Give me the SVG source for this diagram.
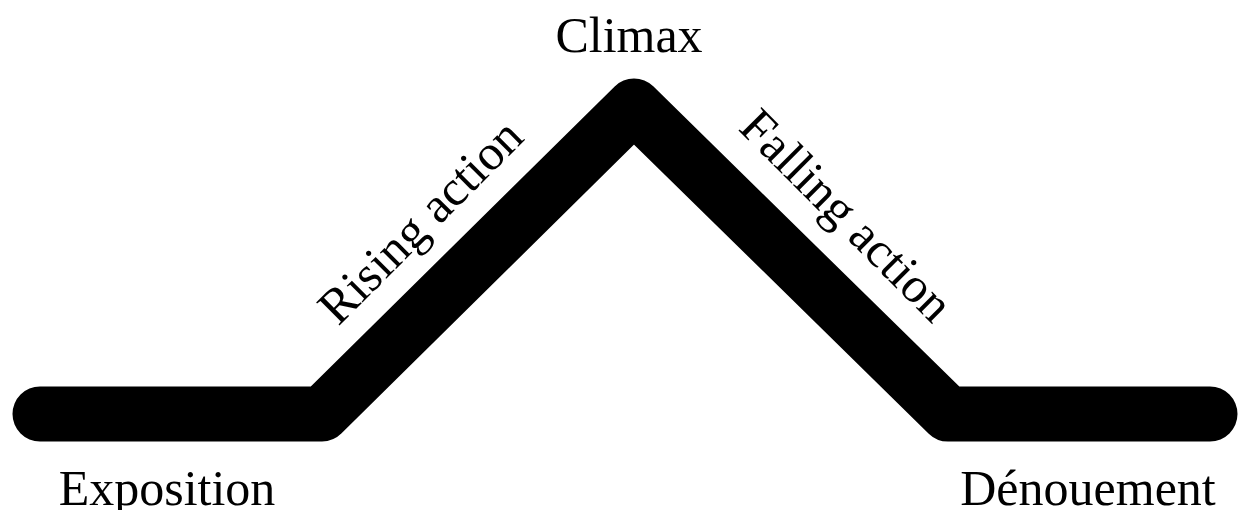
<svg xmlns="http://www.w3.org/2000/svg" width="1238" height="510" viewBox="0 0 1238 510">
  <style>
    .lbl { font-family: "Liberation Serif", "Times New Roman", serif; font-size: 50px; fill: #000; }
    .arc { fill: none; stroke: #000; stroke-width: 55; stroke-linecap: round; stroke-linejoin: round; }
  </style>
  <rect width="1238" height="510" fill="#fff"/>
  <g id="connectors">
    <polyline class="arc" points="40,414 322,414 634,106 948,414 1210,414"/>
  </g>
  <g id="climax">
    <text class="lbl" x="629" y="52" text-anchor="middle">Climax</text>
  </g>
  <g id="rising-action">
    <text class="lbl" text-anchor="middle" transform="translate(432,233) rotate(-45)">Rising action</text>
  </g>
  <g id="falling-action">
    <text class="lbl" text-anchor="middle" transform="translate(835,227) rotate(45)">Falling action</text>
  </g>
  <g id="exposition">
    <text class="lbl" x="167" y="505" text-anchor="middle">Exposition</text>
  </g>
  <g id="denouement">
    <text class="lbl" x="1088" y="505" text-anchor="middle">Dénouement</text>
  </g>
</svg>
